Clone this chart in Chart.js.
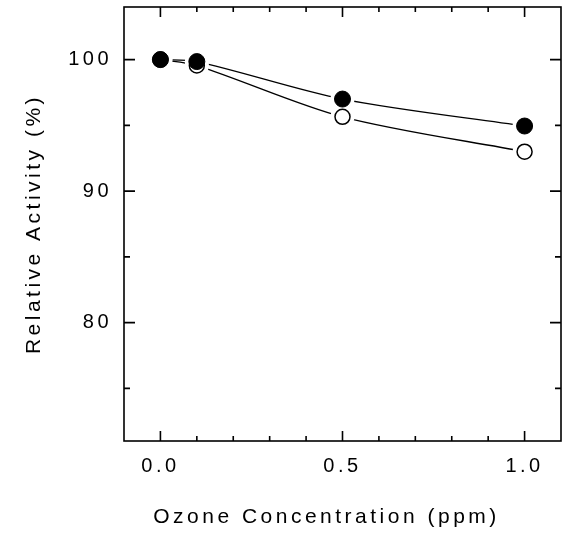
<!DOCTYPE html>
<html>
<head>
<meta charset="utf-8">
<script src="https://cdn.jsdelivr.net/npm/chart.js@4"></script>
<style>
  html, body { margin: 0; padding: 0; background: #fff; }
  #wrap { width: 563px; height: 533px; position: relative; }
</style>
</head>
<body>
<div id="wrap"><canvas id="ozoneChart"></canvas></div>
<script>
// data
const ozone = [0.0, 0.1, 0.5, 1.0];
const filledActivity = [100, 99.85, 97.0, 94.95];
const openActivity = [100, 99.55, 95.65, 93.0];

const xMajor = [0.0, 0.5, 1.0];
const xMinor = [0.1, 0.2, 0.3, 0.4, 0.6, 0.7, 0.8, 0.9];
const yMajor = [80, 90, 100];
const yMinor = [75, 85, 95];

const xTitle = "Ozone Concentration (ppm)";
const yTitle = "Relative Activity (%)";

const pts = (ys) => ozone.map((x, i) => ({ x: x, y: ys[i] }));

// wide plotter-style lettering
const LS = "3.5px";
const spacing = {
  id: "spacing",
  beforeUpdate(chart) { chart.ctx.letterSpacing = LS; },
  beforeLayout(chart) { chart.ctx.letterSpacing = LS; },
  beforeDraw(chart) { chart.ctx.letterSpacing = LS; },
};

const fontFamily = "'Liberation Sans', Arial, sans-serif";

// box with inward ticks on all four sides, plus the x title
// (which sits a little left of the plot centre in the original)
const frame = {
  id: "frame",
  afterDraw(chart) {
    const ctx = chart.ctx;
    const a = chart.chartArea;
    const xs = chart.scales.x;
    const ys = chart.scales.y;
    ctx.save();
    ctx.strokeStyle = "#000";
    ctx.lineWidth = 1.6;
    ctx.strokeRect(a.left, a.top, a.right - a.left, a.bottom - a.top);
    ctx.beginPath();
    const xt = (v, len) => {
      const px = xs.getPixelForValue(v);
      ctx.moveTo(px, a.bottom); ctx.lineTo(px, a.bottom - len);
      ctx.moveTo(px, a.top); ctx.lineTo(px, a.top + len);
    };
    const yt = (v, len) => {
      const py = ys.getPixelForValue(v);
      ctx.moveTo(a.left, py); ctx.lineTo(a.left + len, py);
      ctx.moveTo(a.right, py); ctx.lineTo(a.right - len, py);
    };
    xMajor.forEach((v) => xt(v, 10));
    xMinor.forEach((v) => xt(v, 5));
    yMajor.forEach((v) => yt(v, 11));
    yMinor.forEach((v) => yt(v, 6));
    ctx.stroke();

    ctx.letterSpacing = LS;
    ctx.fillStyle = "#000";
    ctx.font = "21px " + fontFamily;
    ctx.textAlign = "center";
    ctx.textBaseline = "middle";
    ctx.fillText(xTitle, (a.left + a.right) / 2 - 16, chart.height - 16);
    ctx.restore();
  },
};

const font = { family: fontFamily };

new Chart(document.getElementById("ozoneChart"), {
  type: "scatter",
  data: {
    datasets: [
      // connecting curves
      { data: pts(filledActivity), showLine: true, tension: 0.3, borderColor: "#000", borderWidth: 1.3, pointRadius: 0, order: 3 },
      { data: pts(openActivity), showLine: true, tension: 0.3, borderColor: "#000", borderWidth: 1.3, pointRadius: 0, order: 3 },
      // white halos so the curves stop short of the symbols
      { data: pts(openActivity), pointRadius: 12, pointBackgroundColor: "#fff", pointBorderWidth: 0, order: 2 },
      { data: pts(filledActivity), pointRadius: 12, pointBackgroundColor: "#fff", pointBorderWidth: 0, order: 2 },
      // symbols
      { data: pts(openActivity), pointRadius: 7.5, pointBackgroundColor: "#fff", pointBorderColor: "#000", pointBorderWidth: 1.5, order: 1 },
      { data: pts(filledActivity), pointRadius: 8, pointBackgroundColor: "#000", pointBorderColor: "#000", pointBorderWidth: 1, order: 0 },
    ],
  },
  options: {
    responsive: true,
    maintainAspectRatio: false,
    animation: false,
    layout: { autoPadding: false, padding: { top: 7, right: 2, left: 0, bottom: 0 } },
    plugins: {
      legend: { display: false },
      tooltip: { enabled: false },
    },
    scales: {
      x: {
        type: "linear",
        min: -0.1,
        max: 1.1,
        grid: { display: false },
        border: { display: false },
        afterBuildTicks: (s) => { s.ticks = xMajor.map((v) => ({ value: v })); },
        afterFit: (s) => { s.height = 92; s.paddingLeft = 0; s.paddingRight = 0; },
        ticks: {
          color: "#000",
          padding: 5,
          font: { ...font, size: 20 },
          callback: (v) => Number(v).toFixed(1),
        },
        title: { display: false },
      },
      y: {
        min: 71,
        max: 104,
        grid: { display: false },
        border: { display: false },
        afterBuildTicks: (s) => { s.ticks = yMajor.map((v) => ({ value: v })); },
        afterFit: (s) => { s.width = 124; s.paddingTop = 0; s.paddingBottom = 0; },
        ticks: {
          color: "#000",
          padding: 4,
          font: { ...font, size: 20 },
        },
        title: {
          display: true,
          text: yTitle,
          color: "#000",
          font: { ...font, size: 21 },
          padding: { top: 22, bottom: 0 },
        },
      },
    },
  },
  plugins: [spacing, frame],
});
</script>
</body>
</html>
